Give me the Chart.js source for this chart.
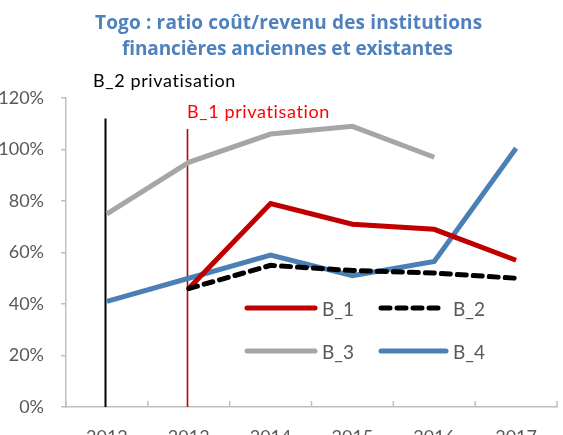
<!DOCTYPE html>
<html><head><meta charset="utf-8">
<script src="https://cdn.jsdelivr.net/npm/chart.js@4"></script>
<style>html,body{margin:0;padding:0;background:#fff;overflow:hidden;width:563px;height:435px}#wrap{width:563px;height:460px}</style>
</head><body><div id="wrap"><canvas id="c" width="563" height="460"></canvas></div>
<script>
const years = ['2012','2013','2014','2015','2016','2017'];
const b1 = [null, 46, 79, 71, 69, 57];
const b2 = [null, 46, 55, 53, 52, 50];
const b3 = [75, 95, 106, 109, 97, null];
const b4 = [41, 50, 59, 51, 56.5, 100.5];
const yTicks = [0, 20, 40, 60, 80, 100, 120];
const titleLines = ['Togo : ratio coût/revenu des institutions', 'financières anciennes et existantes'];
const markers = [{cat:'2012', top:112, color:'#000000', text:'B_2 privatisation', textColor:'#000000'},
                 {cat:'2013', top:108, color:'#C00000', text:'B_1 privatisation', textColor:'#FF0000'}];

const FONT = 'Lato, "Open Sans", sans-serif';
const TFONT = '"Open Sans", Lato, sans-serif';
const colors = {B_1:'#C00000', B_2:'#000000', B_3:'#A6A6A6', B_4:'#4A80B5'};

function fitText(ctx, text, x, y, size, weight, target, fam){
  fam = fam || FONT;
  ctx.font = `${weight} ${size}px ${fam}`;
  if ('letterSpacing' in ctx){
    ctx.letterSpacing = '0px';
    const w = ctx.measureText(text).width;
    const ls = (target - w) / Math.max(1, text.length - 1);
    ctx.letterSpacing = ls.toFixed(2) + 'px';
    ctx.fillText(text, x, y);
    ctx.letterSpacing = '0px';
  } else {
    const w = ctx.measureText(text).width;
    ctx.font = `${weight} ${size*target/w}px ${fam}`;
    ctx.fillText(text, x, y);
  }
}

const deco = {
  id:'deco',
  beforeDatasetsDraw(chart){
    const {ctx, scales:{x,y}} = chart;
    ctx.save();
    markers.forEach((m,i)=>{
      const px = Math.round(x.getPixelForValue(years.indexOf(m.cat))) - 1.5;
      ctx.strokeStyle = m.color; ctx.lineWidth = i===0?2:1.6;
      ctx.beginPath(); ctx.moveTo(px, y.getPixelForValue(m.top)); ctx.lineTo(px, y.getPixelForValue(0)); ctx.stroke();
    });
    ctx.restore();
  },
  afterDraw(chart){
    const {ctx, scales:{x,y}, chartArea:ca} = chart;
    ctx.save();
    // title
    ctx.fillStyle = '#4F81BD';
    ctx.textAlign = 'left'; ctx.textBaseline = 'alphabetic';
    fitText(ctx, titleLines[0], 95, 29, 19, 'bold', 387, TFONT);
    fitText(ctx, titleLines[1], 122, 54.5, 19, 'bold', 331, TFONT);
    // marker labels
    ctx.fillStyle = markers[0].textColor; fitText(ctx, markers[0].text, 93, 86.5, 18, 'normal', 143);
    ctx.fillStyle = markers[1].textColor; fitText(ctx, markers[1].text, 187, 118, 18, 'normal', 143);
    // inner x ticks
    ctx.strokeStyle = '#BFBFBF'; ctx.lineWidth = 1.5;
    const half = (x.getPixelForValue(1) - x.getPixelForValue(0)) / 2;
    for (let i=0;i<=years.length;i++){
      const px = i<years.length ? x.getPixelForValue(i)-half : x.getPixelForValue(years.length-1)+half;
      ctx.beginPath(); ctx.moveTo(px, ca.bottom); ctx.lineTo(px, ca.bottom-6); ctx.stroke();
    }
    // legend
    const items = [
      {name:'B_1', x:247, y:308, len:68, dash:[], tx:322},
      {name:'B_2', x:381, y:308, len:59, dash:[9,7], tx:453},
      {name:'B_3', x:247, y:351, len:68, dash:[], tx:322},
      {name:'B_4', x:381, y:351, len:65, dash:[], tx:453},
    ];
    items.forEach(it=>{
      ctx.strokeStyle = colors[it.name]; ctx.lineWidth = 5; ctx.lineCap = 'round';
      ctx.setLineDash(it.dash);
      ctx.beginPath(); ctx.moveTo(it.x, it.y); ctx.lineTo(it.x+it.len, it.y); ctx.stroke();
      ctx.setLineDash([]);
      ctx.fillStyle = '#595959'; ctx.font = `19px ${FONT}`; ctx.textBaseline='middle'; ctx.textAlign='left';
      ctx.fillText(it.name, it.tx, it.y+2);
    });
    ctx.restore();
  }
};

const mk = (label, data, extra={}) => Object.assign({label, data, borderColor:colors[label], backgroundColor:colors[label],
  borderWidth:5, pointRadius:0, fill:false, tension:0, spanGaps:false, borderJoinStyle:'miter'}, extra);

new Chart(document.getElementById('c'), {
  type:'line',
  data:{labels:years, datasets:[
    mk('B_3', b3),
    mk('B_2', b2, {borderDash:[9,7], borderCapStyle:'round'}),
    mk('B_1', b1),
    mk('B_4', b4),
  ]},
  options:{
    responsive:false, animation:false, devicePixelRatio:1,
    layout:{padding:{top:98, right:6, left:0, bottom:0}},
    plugins:{legend:{display:false}, title:{display:false}, tooltip:{enabled:false}},
    scales:{
      x:{offset:true,
         grid:{display:true, drawOnChartArea:false, drawTicks:false, color:'rgba(0,0,0,0)'},
         border:{display:true, color:'#BFBFBF', width:1.5},
         ticks:{color:'#595959', font:{family:FONT, size:18}, padding:19, maxRotation:0},
         afterFit(s){ s.height = 53; }},
      y:{min:0, max:120,
         afterBuildTicks(s){ s.ticks = yTicks.map(v=>({value:v})); },
         grid:{drawOnChartArea:false, drawTicks:true, tickLength:5, color:'#BFBFBF', lineWidth:1.5},
         border:{display:true, color:'#BFBFBF', width:1.5},
         ticks:{color:'#595959', font:{family:FONT, size:18}, padding:17, callback:v=>v+'%'},
         afterFit(s){ s.width = 66; }}
    }
  },
  plugins:[deco]
});
</script></body></html>
